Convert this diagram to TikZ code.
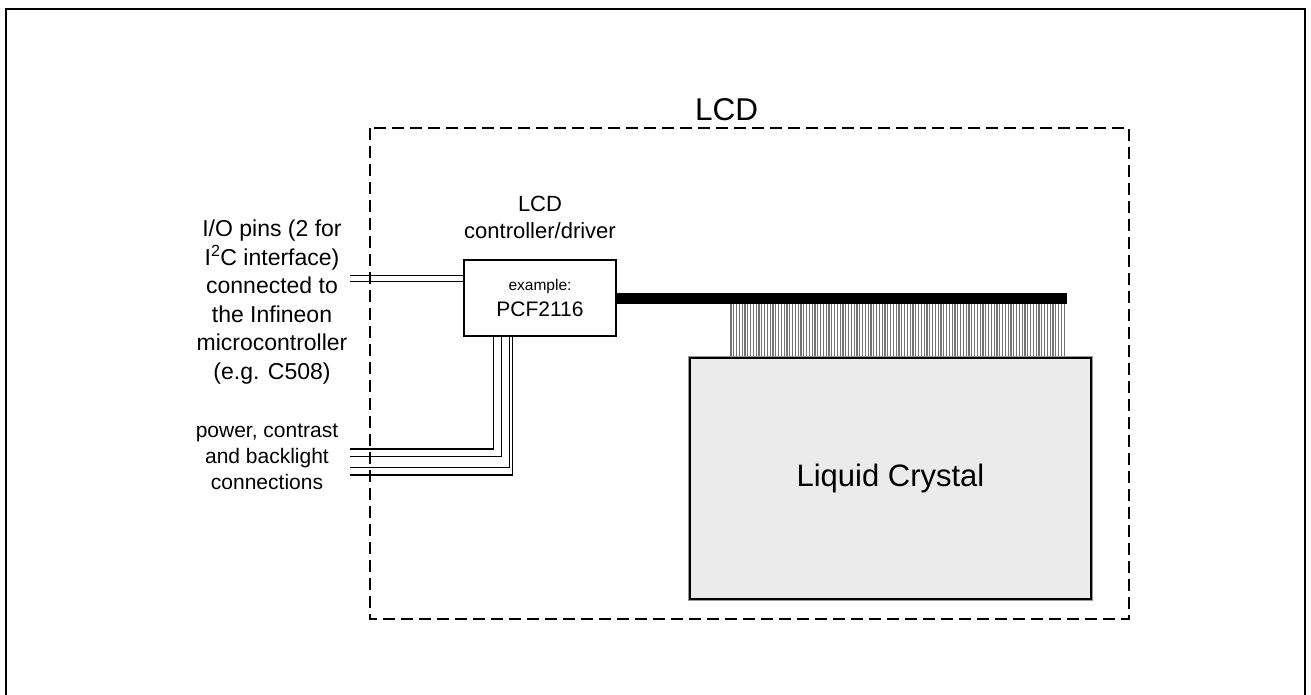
\documentclass[tikz,border=0pt]{standalone}
\usepackage{fontspec}
\setmainfont{Liberation Sans}
\usetikzlibrary{calc}
\begin{document}
\begin{tikzpicture}[x=1pt,y=-1pt,
  wire/.style={line width=1.2pt},
  dashbox/.style={line width=1.7pt, dash pattern=on 12pt off 6pt},
  frame/.style={line width=2pt},
  chipbox/.style={draw, line width=1.3pt, minimum width=152pt, minimum height=76pt, inner sep=0pt, align=center, font=\fontsize{21}{26}\selectfont},
  label/.style={inner sep=0pt, align=center},
  combline/.style={line width=1.2pt, black!55},
  bus/.style={line width=11pt},
  lcbox/.style={minimum width=401pt, minimum height=241pt, inner sep=0pt, font=\fontsize{31}{36}\selectfont}
]
\clip (0,0) rectangle (1311,694);
\fill[white] (0,0) rectangle (1311,694);

% outer frame
\draw[frame] (6.3,710) -- (6.3,9) -- (1304.7,9) -- (1304.7,710);

% LCD dashed boundary
\draw[dashbox] (370,128) rectangle (1129,619);
\node[anchor=base, inner sep=0pt, font=\fontsize{31.5}{36}\selectfont] (lcdtitle) at (726.5,120) {LCD};

% controller / driver
\node[chipbox] (ctl) at (540,298) {{\fontsize{15.5}{18}\selectfont example:}\\PCF2116};
\node[label, font=\fontsize{22}{27}\selectfont] (ctllabel) at (540,217.8) {LCD\\controller/driver};

% I/O label and wires
\node[label, font=\fontsize{23}{28.5}\selectfont] (iolabel) at (272,302) {I/O pins (2 for\\I\textsuperscript{2}C interface)\\connected to\\the Infineon\\microcontroller\\(e.g. C508)};
\coordinate (io1) at (350,275.5);
\coordinate (io2) at (350,281.5);
\draw[wire] (io1) -- (io1 -| ctl.west);
\draw[wire] (io2) -- (io2 -| ctl.west);

% power label and wires
\node[label, font=\fontsize{21}{26}\selectfont] (pwlabel) at (267,457.3) {power, contrast\\and backlight\\connections};
\foreach \i/\y/\dx in {1/449/30, 2/456.5/38.5, 3/467.5/46, 4/475/49.5} {
  \coordinate (pw\i) at (350,\y);
  \draw[wire] (pw\i) -| ($(ctl.south west)+(\dx,0)$);
}

% bus to the display
\coordinate (busend) at (1067,298.5);
\draw[bus] (ctl.east |- busend) -- (busend);

% comb of connections
\foreach \x in {731,733.8,...,1066} {
  \draw[combline] (\x,304) -- (\x,358);
}

% liquid crystal panel
\node[lcbox, fill=black!8] (lc) at (890.5,478.5) {Liquid Crystal};
\draw[black!40, line width=3pt] (lc.north west) rectangle (lc.south east);
\draw[line width=1.5pt] (lc.north west) rectangle (lc.south east);
\end{tikzpicture}
\end{document}
